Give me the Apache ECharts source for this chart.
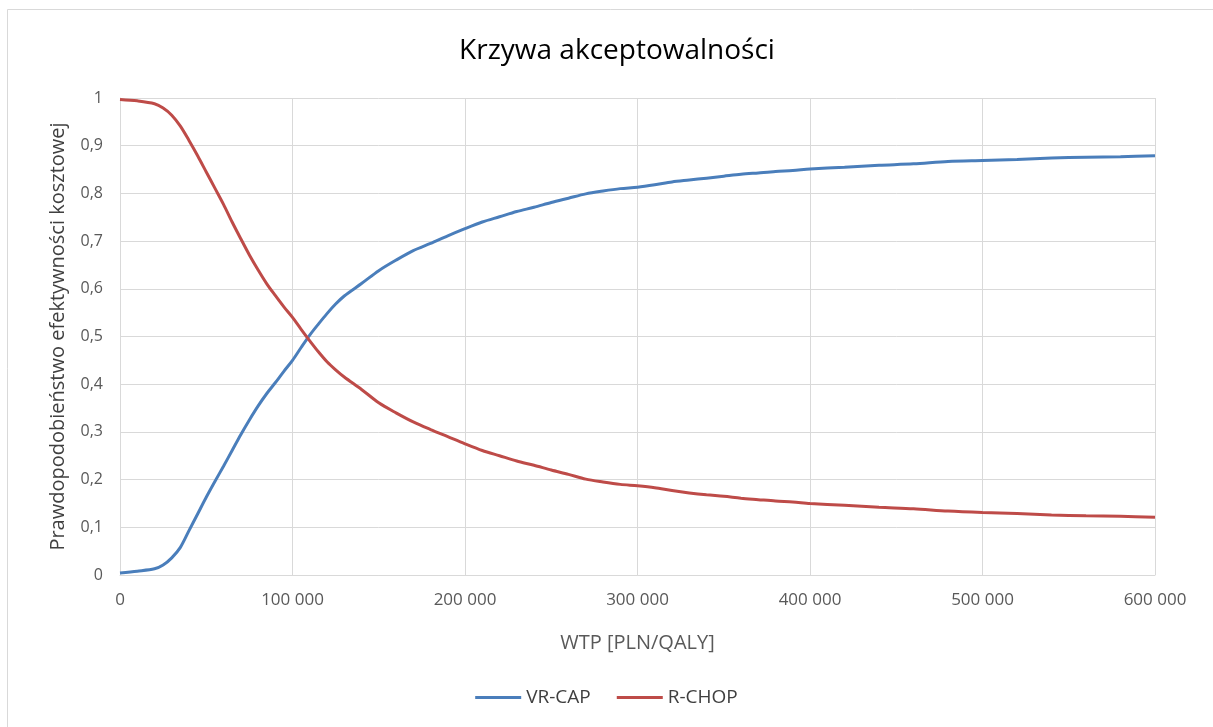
<!DOCTYPE html>
<html>
<head>
<meta charset="utf-8">
<script src="https://cdn.jsdelivr.net/npm/echarts@6/dist/echarts.min.js"></script>
<style>
  html, body { margin: 0; padding: 0; background: #ffffff; }
  #chart { width: 1213px; height: 727px; }
</style>
</head>
<body>
<div id="chart"></div>
<script>
// Willingness-to-pay thresholds (PLN per QALY)
const wtp = [
  0, 10000, 20000, 25000, 30000, 35000, 40000, 45000, 50000, 55000,
  60000, 65000, 70000, 75000, 80000, 85000, 90000, 95000, 100000, 105000,
  110000, 115000, 120000, 125000, 130000, 140000, 150000, 160000, 170000, 180000,
  190000, 200000, 210000, 220000, 230000, 240000, 250000, 260000, 270000, 280000,
  290000, 300000, 310000, 320000, 330000, 340000, 350000, 360000, 370000, 380000,
  390000, 400000, 420000, 440000, 460000, 480000, 500000, 520000, 540000, 560000,
  580000, 600000
];

// Probability that each strategy is cost-effective
const vrCap = [
  0.004, 0.008, 0.013, 0.021, 0.036, 0.058, 0.093, 0.128, 0.163, 0.196,
  0.228, 0.261, 0.294, 0.325, 0.354, 0.380, 0.403, 0.427, 0.450, 0.477,
  0.503, 0.526, 0.548, 0.568, 0.585, 0.611, 0.638, 0.660, 0.680, 0.695,
  0.711, 0.726, 0.740, 0.751, 0.762, 0.771, 0.781, 0.790, 0.799, 0.805,
  0.810, 0.813, 0.818, 0.824, 0.828, 0.832, 0.836, 0.840, 0.843, 0.846,
  0.848, 0.851, 0.855, 0.859, 0.862, 0.867, 0.869, 0.871, 0.874, 0.876,
  0.877, 0.879
];
const rChop = [
  0.997, 0.994, 0.988, 0.979, 0.964, 0.941, 0.911, 0.879, 0.845, 0.811,
  0.777, 0.740, 0.705, 0.671, 0.640, 0.611, 0.586, 0.562, 0.540, 0.515,
  0.491, 0.468, 0.447, 0.430, 0.415, 0.389, 0.361, 0.340, 0.321, 0.305,
  0.290, 0.275, 0.261, 0.250, 0.239, 0.230, 0.220, 0.211, 0.201, 0.195,
  0.190, 0.187, 0.183, 0.177, 0.172, 0.168, 0.165, 0.161, 0.158, 0.155,
  0.153, 0.150, 0.146, 0.142, 0.139, 0.134, 0.131, 0.129, 0.126, 0.124,
  0.123, 0.121
];

const seriesNames = ['VR-CAP', 'R-CHOP'];
const seriesColors = ['#4a7ebb', '#be4b48'];

const pairs = (ys) => wtp.map((x, i) => [x, ys[i]]);
const fmtThousands = (v) => String(v).replace(/\B(?=(\d{3})+(?!\d))/g, ' ');
const fmtDecimal = (v) => String(Math.round(v * 10) / 10).replace('.', ',');

const chart = echarts.init(document.getElementById('chart'), null, { renderer: 'canvas' });

chart.setOption({
  backgroundColor: '#ffffff',
  animation: false,
  graphic: [{
    type: 'rect',
    shape: { x: 7.5, y: 9.5, width: 1230, height: 740 },
    style: { fill: 'none', stroke: '#d9d9d9', lineWidth: 1 },
    silent: true
  }],
  title: {
    text: 'Krzywa akceptowalności',
    left: 612,
    textAlign: 'center',
    top: 32,
    textStyle: {
      fontFamily: 'Open Sans',
      fontSize: 28,
      fontWeight: 'normal',
      color: '#000000'
    }
  },
  legend: {
    data: seriesNames,
    bottom: 15,
    left: 'center',
    itemWidth: 46,
    itemHeight: 3,
    itemGap: 26,
    icon: 'rect',
    textStyle: { fontFamily: 'Open Sans', fontSize: 19, color: '#404040' }
  },
  grid: { left: 120, right: 58, top: 98, bottom: 152, containLabel: false },
  xAxis: {
    type: 'value',
    min: 0,
    max: 600000,
    interval: 100000,
    name: 'WTP [PLN/QALY]',
    nameLocation: 'middle',
    nameGap: 58,
    nameTextStyle: { fontFamily: 'Open Sans', fontSize: 20, color: '#595959' },
    axisLine: { show: true, lineStyle: { color: '#d9d9d9', width: 1 } },
    axisTick: { show: false },
    axisLabel: {
      formatter: fmtThousands,
      margin: 17,
      fontFamily: 'Open Sans',
      fontSize: 17,
      color: '#595959'
    },
    splitLine: { show: true, lineStyle: { color: '#d9d9d9', width: 1 } }
  },
  yAxis: {
    type: 'value',
    min: 0,
    max: 1,
    interval: 0.1,
    name: 'Prawdopodobieństwo efektywności kosztowej',
    nameLocation: 'middle',
    nameGap: 52,
    nameTextStyle: { fontFamily: 'Open Sans', fontSize: 20, color: '#404040' },
    axisLine: { show: true, lineStyle: { color: '#d9d9d9', width: 1 } },
    axisTick: { show: false },
    axisLabel: {
      formatter: fmtDecimal,
      margin: 17,
      fontFamily: 'Open Sans',
      fontSize: 16,
      color: '#595959'
    },
    splitLine: { show: true, lineStyle: { color: '#d9d9d9', width: 1 } }
  },
  series: [
    {
      name: seriesNames[0],
      type: 'line',
      data: pairs(vrCap),
      smooth: 0.3,
      showSymbol: false,
      symbol: 'none',
      lineStyle: { color: seriesColors[0], width: 3 },
      itemStyle: { color: seriesColors[0] }
    },
    {
      name: seriesNames[1],
      type: 'line',
      data: pairs(rChop),
      smooth: 0.3,
      showSymbol: false,
      symbol: 'none',
      lineStyle: { color: seriesColors[1], width: 3 },
      itemStyle: { color: seriesColors[1] }
    }
  ]
});
</script>
</body>
</html>
